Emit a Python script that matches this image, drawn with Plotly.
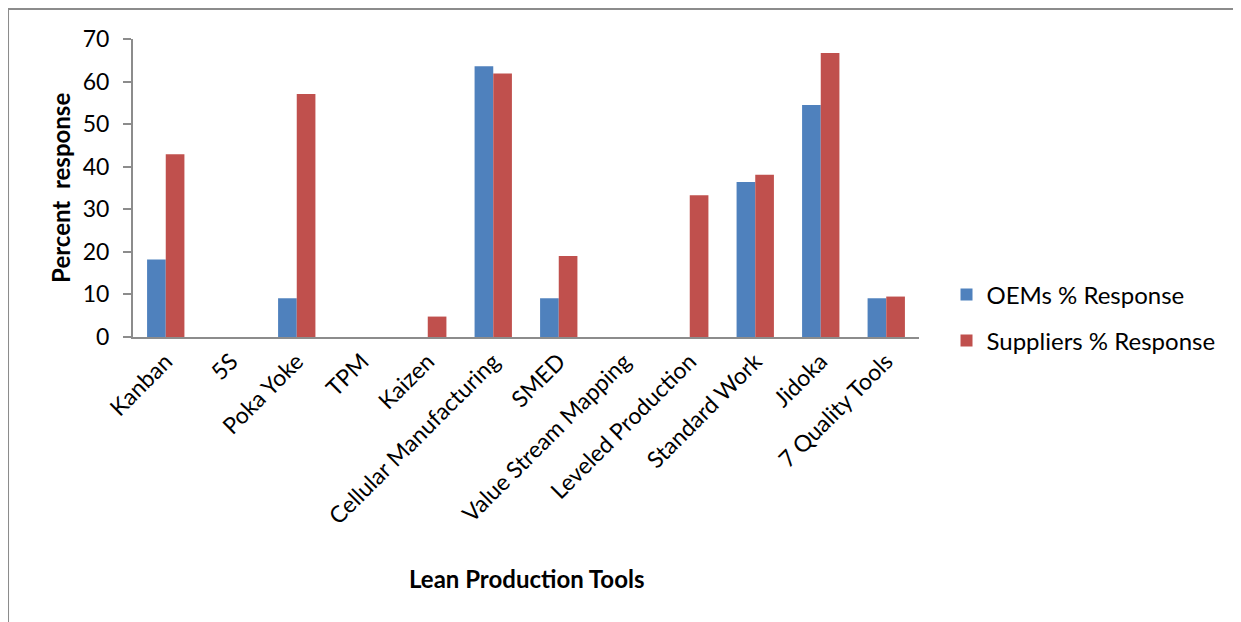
import plotly.graph_objects as go

categories = ["Kanban", "5S", "Poka Yoke", "TPM", "Kaizen", "Cellular Manufacturing",
              "SMED", "Value Stream Mapping", "Leveled Production", "Standard Work",
              "Jidoka", "7 Quality Tools"]
oems = [18.2, 0, 9.1, 0, 0, 63.6, 9.1, 0, 0, 36.4, 54.5, 9.1]
suppliers = [42.9, 0, 57.1, 0, 4.8, 61.9, 19.0, 0, 33.3, 38.1, 66.7, 9.5]
y_ticks = [0, 10, 20, 30, 40, 50, 60, 70]

FONT = "Lato"

fig = go.Figure()
fig.add_trace(go.Bar(x=categories, y=oems, name="OEMs % Response", legend="legend",
                     marker=dict(color="#4F81BD", line=dict(width=0))))
fig.add_trace(go.Bar(x=categories, y=suppliers, name="Suppliers % Response", legend="legend2",
                     marker=dict(color="#C0504D", line=dict(width=0))))

leg_common = dict(xanchor="left", yanchor="middle", font=dict(size=24, family=FONT),
                  itemwidth=30, bgcolor="rgba(0,0,0,0)")

fig.update_layout(
    width=1241, height=622,
    margin=dict(l=125, r=330, t=31, b=293),
    paper_bgcolor="white", plot_bgcolor="white",
    barmode="group", bargap=0.43, bargroupgap=0,
    font=dict(family=FONT, color="black"),
    showlegend=True,
    legend=dict(x=1.035, y=0.141, **leg_common),
    legend2=dict(x=1.035, y=-0.013, **leg_common),
    xaxis=dict(showline=True, linecolor="#8c8c8c", linewidth=2, ticks="",
               tickangle=-45, tickfont=dict(size=23, family=FONT),
               showgrid=False),
    yaxis=dict(range=[0, 70], tickvals=y_ticks, showline=True, linecolor="#8c8c8c",
               linewidth=2, ticks="outside", ticklen=8, tickcolor="#8c8c8c",
               tickwidth=2, tickfont=dict(size=23, family=FONT), showgrid=False,
               zeroline=False, ticklabelstandoff=9),
)

fig.add_annotation(text="<b>Percent  response</b>", xref="paper", yref="paper",
                   x=-0.093, y=0.5, xanchor="center", yanchor="middle", textangle=-90,
                   showarrow=False, font=dict(size=24, family=FONT))
fig.add_annotation(text="<b>Lean Production Tools</b>", xref="paper", yref="paper",
                   x=0.5, y=-0.809, xanchor="center", yanchor="middle",
                   showarrow=False, font=dict(size=24, family=FONT))

fig.add_shape(type="rect", xref="paper", yref="paper", x0=-0.159, x1=1.6, y0=-1.2, y1=1.1007,
              line=dict(color="#8c8c8c", width=2), fillcolor="rgba(0,0,0,0)", layer="below")

fig.write_html("out.html")
